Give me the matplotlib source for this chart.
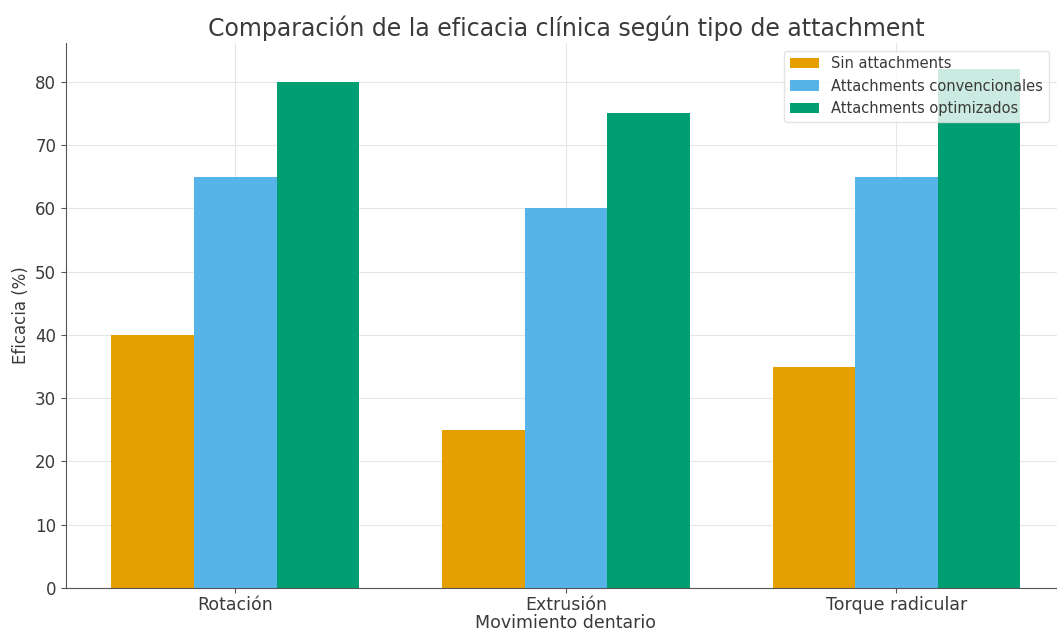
import numpy as np
import matplotlib
matplotlib.use("Agg")
import matplotlib.pyplot as plt

categories = ["Rotación", "Extrusión", "Torque radicular"]
series_names = ["Sin attachments", "Attachments convencionales", "Attachments optimizados"]
sin_attachments = [40, 25, 35]
convencionales = [65, 60, 65]
optimizados = [80, 75, 82]
colors = ["#E69F00", "#56B4E9", "#009E73"]

plt.rcParams["font.family"] = ["DejaVu Sans"]
text_color = "#3a3a3a"

fig = plt.figure(figsize=(10.57, 6.32), dpi=100)
ax = fig.add_axes([0.0624, 0.0696, 0.946, 0.862])

x = np.arange(len(categories))
width = 0.25
for i, (vals, name, col) in enumerate(zip([sin_attachments, convencionales, optimizados], series_names, colors)):
    ax.bar(x + (i - 1) * width, vals, width, label=name, color=col, zorder=2)

ax.set_xticks(x)
ax.set_xticklabels(categories)
ax.set_yticks(np.arange(0, 81, 10))
ax.grid(True, color="#e6e6e6", linewidth=0.8, zorder=0)
ax.set_axisbelow(True)
for side in ["top", "right"]:
    ax.spines[side].set_visible(False)
for side in ["left", "bottom"]:
    ax.spines[side].set_color("#555555")
ax.tick_params(colors="#555555", labelcolor=text_color, labelsize=12)
ax.tick_params(axis="x", labelsize=12.5, pad=2)
ax.set_xlabel("Movimiento dentario", fontsize=12.5, color=text_color, labelpad=0)
ax.set_ylabel("Eficacia (%)", fontsize=12, color=text_color)
ax.set_title("Comparación de la eficacia clínica según tipo de attachment",
             fontsize=17, color=text_color, pad=5)
ax.legend(loc="upper right", bbox_to_anchor=(0.99, 1.0), fontsize=10.5,
          framealpha=0.8, edgecolor="#dddddd", labelcolor=text_color)

fig.savefig("out.png", dpi=100)
